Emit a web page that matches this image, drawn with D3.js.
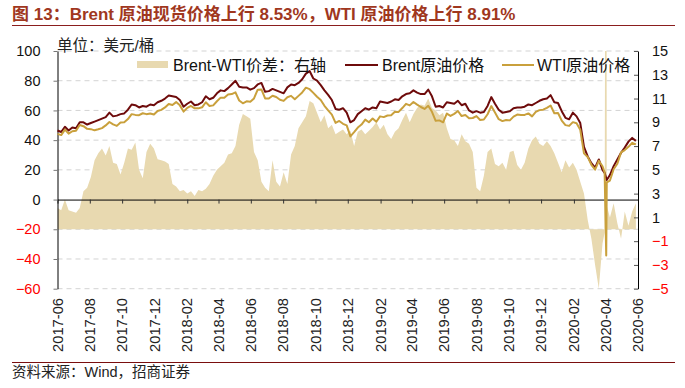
<!DOCTYPE html>
<html>
<head>
<meta charset="utf-8">
<script src="https://cdn.jsdelivr.net/npm/d3@7"></script>
<style>
  body { margin: 0; background: #fff; }
  svg text { font-family: Arial, "Liberation Sans", "Noto Sans CJK SC", sans-serif; }
</style>
</head>
<body>
<div id="chart"></div>
<script>
// weekly (Monday) readings, first week 2017-06-19
const firstWeek = "2017-06-19";
const brent = [
  46.5, 45.5, 49.0, 46.5, 48.5, 48.0, 52.0, 52.0, 50.5, 51.5,
  52.5, 53.5, 54.5, 55.5, 58.5, 56.0, 56.5, 57.5, 58.0, 60.5,
  64.0, 63.5, 62.0, 63.0, 62.5, 64.0, 63.5, 65.5, 66.5, 68.0,
  70.0, 69.5, 69.0, 67.0, 62.5, 64.5, 66.0, 63.5, 64.0, 65.5,
  69.5, 67.5, 68.5, 71.5, 73.5, 73.0, 75.0, 77.5, 80.0, 76.0,
  75.5, 75.5, 74.0, 75.0, 77.5, 78.5, 72.5, 73.0, 74.5, 73.5,
  72.5, 71.5, 75.5, 77.5, 77.0, 78.5, 81.0, 84.8, 86.5, 81.5,
  80.0, 77.0, 73.5, 70.5, 67.0, 61.0, 60.5, 61.5, 58.5, 52.0,
  53.5, 57.5, 59.5, 61.5, 60.5, 62.0, 61.5, 66.0, 65.5, 65.0,
  66.0, 67.5, 67.0, 69.5, 71.0, 71.5, 73.5, 72.0, 71.0, 71.0,
  74.0, 69.5, 62.5, 63.0, 62.0, 65.5, 65.0, 64.5, 66.5, 63.5,
  64.5, 60.0, 58.5, 59.5, 58.5, 59.0, 63.0, 69.0, 64.5, 60.5,
  58.5, 59.0, 59.5, 61.5, 62.0, 62.0, 62.5, 64.0, 63.5, 65.0,
  66.5, 67.5, 68.0, 70.3, 65.5, 65.0, 59.5, 55.0, 54.0, 58.5,
  56.0, 51.5, 35.5, 29.0, 24.5, 21.5, 27.0, 20.0, 14.5, 16.5,
  22.5, 27.0, 31.5, 35.0, 39.0, 41.5, 39.5
];
const wti = [
  44.2, 43.4, 47.1, 44.4, 46.0, 46.3, 50.2, 49.4, 47.6, 47.4,
  46.6, 47.3, 48.1, 49.9, 52.2, 50.6, 49.6, 51.9, 52.0, 54.2,
  57.5, 57.0, 56.8, 58.1, 57.5, 57.9, 57.2, 59.6, 60.4, 62.0,
  64.3, 63.6, 65.6, 63.4, 59.2, 61.7, 63.0, 61.4, 61.4, 62.1,
  65.5, 63.0, 63.4, 66.2, 68.6, 68.6, 70.7, 71.0, 72.2, 66.7,
  64.8, 66.1, 65.8, 68.1, 74.0, 74.1, 68.1, 68.0, 69.9, 69.0,
  67.2, 66.4, 68.9, 69.8, 67.5, 69.8, 72.1, 75.3, 74.3, 71.8,
  69.2, 67.0, 63.1, 60.0, 57.2, 51.6, 52.9, 51.0, 49.9, 42.5,
  45.4, 48.5, 50.5, 53.8, 52.0, 54.6, 52.4, 56.0, 55.5, 56.6,
  56.8, 59.1, 59.0, 61.6, 64.4, 63.4, 65.7, 63.9, 62.3, 61.0,
  63.1, 59.1, 53.0, 53.3, 52.0, 57.9, 56.3, 57.7, 59.6, 56.2,
  56.9, 54.7, 54.9, 56.2, 53.6, 53.9, 57.4, 62.9, 58.6, 54.1,
  52.8, 53.6, 53.3, 55.8, 57.2, 56.9, 57.0, 58.0, 56.0, 59.0,
  60.2, 60.5, 61.7, 63.3, 58.1, 58.3, 53.1, 50.1, 49.6, 52.1,
  51.4, 47.0, 31.1, 28.7, 23.4, 20.1, 26.1, 22.4, -37.6, 12.8,
  20.4, 24.1, 31.8, 33.3, 35.5, 38.2, 37.1
];
const spread = [
  1.8, 1.6, 2.5, 1.6, 1.5, 1.4, 1.8, 3.2, 3.5, 4.4,
  5.8, 6.4, 6.8, 6.2, 7.0, 5.6, 5.5, 4.6, 5.6, 6.8,
  6.7, 7.3, 5.0, 4.3, 6.5, 7.2, 6.8, 5.9, 5.8, 5.7,
  5.5, 3.8, 3.6, 3.2, 3.3, 3.0, 3.2, 2.8, 3.3, 3.2,
  3.4, 3.8, 4.5, 5.0, 5.3, 5.6, 6.3, 6.4, 7.0, 8.8,
  9.7, 9.5, 9.3, 6.5, 5.8, 4.0, 3.5, 3.2, 5.8, 4.0,
  3.6, 4.8, 3.8, 6.3, 7.0, 8.5, 9.0, 9.5, 10.8, 10.6,
  9.8, 9.0, 9.6, 8.5, 8.8, 8.0, 8.2, 8.4, 8.0, 8.3,
  7.0, 8.2, 8.4, 8.0, 8.3, 8.6, 9.0, 8.4, 8.8, 8.0,
  7.6, 8.2, 8.5, 9.2, 9.8, 9.0, 9.7, 10.2, 10.5, 10.4,
  11.0, 10.2, 10.0, 9.6, 9.8, 8.5, 7.6, 7.5, 7.0, 8.0,
  7.4, 7.2, 6.5, 3.5, 3.2, 4.5, 6.5, 6.8, 5.5, 5.3,
  5.6, 5.0, 6.5, 6.6, 5.4, 5.0, 5.6, 6.8, 7.5, 7.8,
  7.2, 7.0, 7.4, 7.0, 6.4, 5.6, 4.8, 5.8, 5.2, 5.6,
  5.0, 4.0, 3.0, 0.8, -0.8, -3.0, -5.0, -1.2, 63.0, 1.0,
  2.2, 0.5, -0.8, 1.5, 0.3, 1.5, 2.2
];
// extra daily points around the negative WTI settlement
const extraDates = ["2020-04-17", "2020-04-21"];
const extraBrent = [18.0, 13.2];
const extraWti = [18.3, 11.5];
const extraSpread = [-0.3, 2.0];

const leftTicks = [100, 80, 60, 40, 20, 0, -20, -40, -60];
const rightTicks = [15, 13, 11, 9, 7, 5, 3, 1, -1, -3, -5];
const xLabels = ["2017-06", "2017-08", "2017-10", "2017-12", "2018-02", "2018-04",
  "2018-06", "2018-08", "2018-10", "2018-12", "2019-02", "2019-04", "2019-06",
  "2019-08", "2019-10", "2019-12", "2020-02", "2020-04", "2020-06"];

const titleText = "图 13：Brent 原油现货价格上行 8.53%，WTI 原油价格上行 8.91%";
const unitText = "单位：美元/桶";
const sourceText = "资料来源：Wind，招商证券";

const width = 685, height = 388;
const plot = { left: 57.5, right: 638, top: 51, bottom: 288.7 };

const parse = d3.timeParse("%Y-%m-%d");
const start = parse(firstWeek);
const rows = brent.map((b, i) => ({
  date: d3.timeDay.offset(start, 7 * i), brent: b, wti: wti[i], spread: spread[i]
}));
extraDates.forEach((d, i) => rows.push({
  date: parse(d), brent: extraBrent[i], wti: extraWti[i], spread: extraSpread[i]
}));
rows.sort((a, b) => a.date - b.date);

const svg = d3.select("#chart").append("svg")
  .attr("width", width)
  .attr("height", height)
  .style("background", "#fff");

const x = d3.scaleTime()
  .domain([parse("2017-06-19"), parse("2020-06-19")])
  .range([plot.left, plot.right]);
const yL = d3.scaleLinear().domain([-60, 100]).range([plot.bottom, plot.top]);
const yR = d3.scaleLinear().domain([-5, 15]).range([plot.bottom, plot.top]);
const tickDates = xLabels.map(s => parse(s + "-19"));

svg.append("defs").append("clipPath").attr("id", "plot-clip")
  .append("rect")
  .attr("x", plot.left).attr("y", plot.top)
  .attr("width", plot.right - plot.left).attr("height", plot.bottom - plot.top);

// title + rules
svg.append("text")
  .attr("x", 12).attr("y", 20)
  .attr("font-size", "17px").attr("font-weight", "bold")
  .attr("fill", "#A0371E")
  .text(titleText);
svg.append("line")
  .attr("x1", 12).attr("x2", 675).attr("y1", 25.5).attr("y2", 25.5)
  .attr("stroke", "#8B1E1E").attr("stroke-width", 1);
svg.append("line")
  .attr("x1", 12).attr("x2", 675).attr("y1", 362.5).attr("y2", 362.5)
  .attr("stroke", "#7A0E0E").attr("stroke-width", 1);
svg.append("text")
  .attr("x", 12).attr("y", 377)
  .attr("font-size", "14.5px").attr("fill", "#222")
  .text(sourceText);

// gridlines
svg.append("g")
  .selectAll("line")
  .data(leftTicks.filter(d => d !== 0))
  .join("line")
  .attr("x1", plot.left).attr("x2", plot.right)
  .attr("y1", d => yL(d)).attr("y2", d => yL(d))
  .attr("stroke", "#d3d3d3")
  .attr("stroke-dasharray", "5,4");

// spread area (right axis)
const area = d3.area()
  .x(d => x(d.date))
  .y0(yR(0))
  .y1(d => yR(d.spread));
svg.append("path")
  .datum(rows)
  .attr("clip-path", "url(#plot-clip)")
  .attr("fill", "#E8D9B0")
  .attr("d", area);

// x axis on the zero line
const xAxis = svg.append("g")
  .attr("transform", `translate(0,${yL(0)})`)
  .call(d3.axisBottom(x).tickValues(tickDates).tickSize(4).tickSizeOuter(0).tickFormat(""));
xAxis.select(".domain").attr("stroke", "#000");
xAxis.selectAll(".tick line").attr("stroke", "#333");

svg.append("g")
  .selectAll("text")
  .data(tickDates)
  .join("text")
  .attr("transform", d => `translate(${x(d)},298) rotate(-90)`)
  .attr("text-anchor", "end")
  .attr("dy", "0.35em")
  .attr("font-size", "14.7px")
  .attr("fill", "#222")
  .text((d, i) => xLabels[i]);

// left axis
const leftAxis = svg.append("g")
  .attr("transform", `translate(${plot.left},0)`)
  .call(d3.axisLeft(yL).tickValues(leftTicks).tickSize(4).tickSizeOuter(0).tickPadding(13));
leftAxis.select(".domain").attr("stroke", "#000");
leftAxis.selectAll(".tick line").attr("stroke", "#777");
leftAxis.selectAll(".tick text")
  .attr("font-size", "14.5px")
  .attr("font-family", null)
  .attr("fill", d => d < 0 ? "#FF0000" : "#111");

// right axis
const rightAxis = svg.append("g")
  .attr("transform", `translate(${plot.right},0)`)
  .call(d3.axisRight(yR).tickValues(rightTicks).tickSize(-4).tickSizeOuter(0).tickPadding(14));
rightAxis.select(".domain").attr("stroke", "#000");
rightAxis.selectAll(".tick line").attr("stroke", "#555");
rightAxis.selectAll(".tick text")
  .attr("font-size", "14.5px")
  .attr("font-family", null)
  .attr("fill", d => d < 0 ? "#FF0000" : "#111");

// price lines
const lineB = d3.line().x(d => x(d.date)).y(d => yL(d.brent));
const lineW = d3.line().x(d => x(d.date)).y(d => yL(d.wti));
svg.append("path")
  .datum(rows)
  .attr("fill", "none")
  .attr("stroke", "#6E0B0B")
  .attr("stroke-width", 2)
  .attr("stroke-linejoin", "round")
  .attr("d", lineB);
svg.append("path")
  .datum(rows)
  .attr("fill", "none")
  .attr("stroke", "#C9A03C")
  .attr("stroke-width", 2)
  .attr("stroke-linejoin", "round")
  .attr("d", lineW);

// unit label
svg.append("text")
  .attr("x", 57).attr("y", 51)
  .attr("font-size", "15.5px").attr("fill", "#222")
  .text(unitText);

// legend
const legend = svg.append("g").attr("font-size", "16px").attr("fill", "#111");
legend.append("rect")
  .attr("x", 137).attr("y", 61).attr("width", 31).attr("height", 7)
  .attr("fill", "#E8D9B0");
legend.append("text").attr("x", 173).attr("y", 71).text("Brent-WTI价差：右轴");
legend.append("line")
  .attr("x1", 345).attr("x2", 378).attr("y1", 65).attr("y2", 65)
  .attr("stroke", "#6E0B0B").attr("stroke-width", 2);
legend.append("text").attr("x", 382).attr("y", 71).text("Brent原油价格");
legend.append("line")
  .attr("x1", 502).attr("x2", 534).attr("y1", 65).attr("y2", 65)
  .attr("stroke", "#C9A03C").attr("stroke-width", 2);
legend.append("text").attr("x", 537).attr("y", 71).text("WTI原油价格");
</script>
</body>
</html>
